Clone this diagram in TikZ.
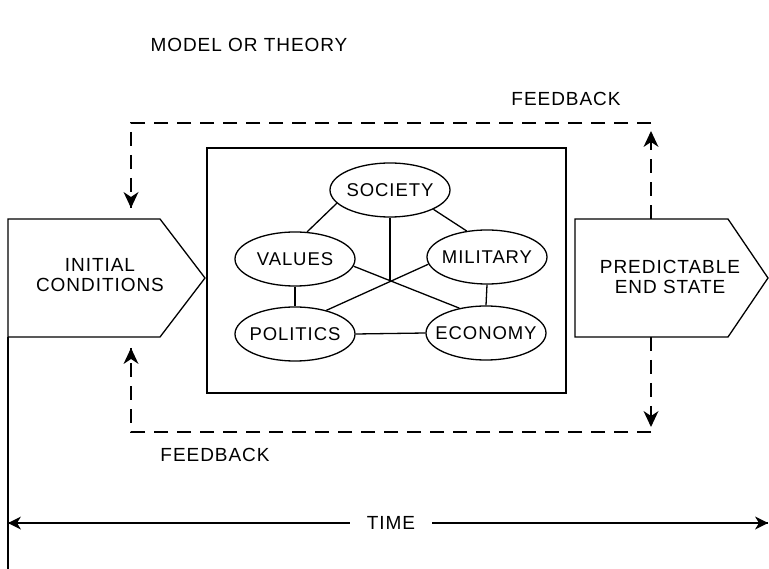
\documentclass[tikz,border=0pt]{standalone}
\usepackage{fontspec}
\setmainfont{Liberation Sans}[LetterSpace=5]
\usetikzlibrary{arrows.meta,shapes.geometric}
\tikzset{
  lbl/.style={font=\fontsize{19}{20}\selectfont, inner sep=0pt, align=center},
  oval/.style={draw, ellipse, minimum width=120pt, minimum height=54pt, inner sep=0pt, line width=1.3pt},
  ovaltext/.style={label={[font=\fontsize{18.5}{20}\selectfont, inner sep=0pt]center:#1}},
  solid line/.style={line width=1.3pt},
  fb/.style={line width=1.4pt, dash pattern=on 14pt off 9pt}
}
\begin{document}
\begin{tikzpicture}[x=1pt,y=-1pt]
\useasboundingbox (0,0) rectangle (769,569);
% title
\node[lbl] (title) at (249,45) {MODEL OR THEORY};
\node[lbl] (fbtop) at (566,99) {FEEDBACK};
\node[lbl] (fbbot) at (215,455) {FEEDBACK};
% central box
\node[draw, solid line, minimum width=359pt, minimum height=245pt, inner sep=0pt] (model) at (386.5,270.5) {};
% ellipses
\node[oval, ovaltext=SOCIETY] (society) at (390,190) {};
\node[oval, ovaltext=VALUES] (values) at (295,259) {};
\node[oval, ovaltext=MILITARY] (military) at (487,257) {};
\node[oval, ovaltext=POLITICS] (politics) at (295,334) {};
\node[oval, ovaltext=ECONOMY] (economy) at (486,333) {};
\coordinate (hub) at (390,281);
\draw[solid line] (society.194) -- (values.66);
\draw[solid line] (society.-24) -- (military.128);
\draw[solid line] (society.south) -- (hub);
\draw[solid line] (values.-7) -- (economy.137);
\draw[solid line] (military.187) -- (politics.37);
\draw[solid line] (values.south) -- (politics.north);
\draw[solid line] (military.south) -- (economy.north);
\draw[solid line] (politics.east) -- (economy.west);
% pentagons
\draw[solid line] (8,219) -- (160,219) -- (205,278) -- (160,337) -- (8,337) -- cycle;
\node[lbl] (initial) at (100,275) {INITIAL\\CONDITIONS};
\draw[solid line] (575,219) -- (728,219) -- (768,278) -- (728,337) -- (575,337) -- cycle;
\node[lbl] (endstate) at (670,277) {PREDICTABLE\\END STATE};
\coordinate (ptop) at (651,219);
\coordinate (pbot) at (651,337);
% feedback loops
\coordinate (trc) at (651,123);
\coordinate (tlc) at (131,123);
\coordinate (tla) at (131,208);
\coordinate (tra) at (651,131);
\draw[fb] (ptop) -- (tra);
\draw[fb] (trc) -- (tlc) -- (tla);
\coordinate (brc) at (651,432);
\coordinate (blc) at (131,432);
\coordinate (bla) at (131,348);
\coordinate (bra) at (651,427);
\draw[fb] (pbot) -- (bra);
\draw[fb] (brc) -- (blc) -- (bla);
% filled arrow heads
\fill (tla) -- ++(-7.5,-16) -- ++(7.5,5) -- ++(7.5,-5) -- cycle;
\fill (bra) -- ++(-7.5,-16) -- ++(7.5,5) -- ++(7.5,-5) -- cycle;
\fill (tra) -- ++(-7.5,16) -- ++(7.5,-5) -- ++(7.5,5) -- cycle;
\fill (bla) -- ++(-7.5,16) -- ++(7.5,-5) -- ++(7.5,5) -- cycle;
% time axis
\draw[solid line] (8,337) -- (8,569);
\node[lbl, inner xsep=17pt] (time) at (391,523) {TIME};
\coordinate (tl) at (8,523);
\coordinate (tr) at (768,523);
\draw[solid line] (time.west) -- (tl);
\draw[solid line] (time.east) -- (tr);
\fill (tl) -- ++(13,-6.5) -- ++(-4,6.5) -- ++(4,6.5) -- cycle;
\fill (tr) -- ++(-13,-6.5) -- ++(4,6.5) -- ++(-4,6.5) -- cycle;
\end{tikzpicture}
\end{document}
